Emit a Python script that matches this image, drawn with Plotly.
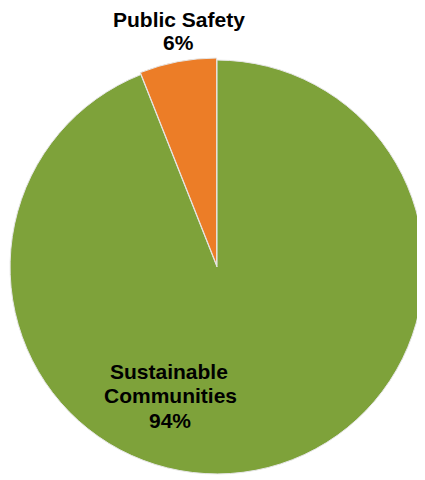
import plotly.graph_objects as go

labels = ["Sustainable Communities", "Public Safety"]
values = [94, 6]
colors = ["#7ea23a", "#ec7d27"]
pull = [0, 0.01]
# each label is drawn line by line, tight line spacing like the original
label_lines = [["Sustainable", "Communities"], ["Public Safety"]]

W, H = 418, 472  # page adds an 8px body margin, so keep the figure inside the window


def px(x):
    return x / W


def py(y):
    return (H - y) / H


# centre of each text line, in figure pixels
line_pos = [
    [(161, 363.5), (162, 387), (161.5, 412)],
    [(171, 11.3), (170.5, 34.5)],
]

fig = go.Figure(go.Pie(
    labels=labels,
    values=values,
    textinfo="none",
    sort=False,
    direction="clockwise",
    rotation=0,
    pull=pull,
    marker=dict(colors=colors, line=dict(color="#e6e6e6", width=1)),
    showlegend=False,
    hoverinfo="label+percent",
    domain=dict(x=[0, 1], y=[py(468), py(50)]),
))

total = sum(values)
for lines, v, pos in zip(label_lines, values, line_pos):
    texts = lines + [f"{round(100 * v / total)}%"]
    for t, (x, y) in zip(texts, pos):
        fig.add_annotation(
            x=px(x), y=py(y), xref="paper", yref="paper",
            xanchor="center", yanchor="middle",
            text=f"<b>{t}</b>",
            showarrow=False,
            font=dict(family="Liberation Sans, Arial, sans-serif", size=21, color="black"),
        )

fig.update_layout(
    width=W,
    height=H,
    margin=dict(l=0, r=0, t=0, b=0),
    paper_bgcolor="white",
    plot_bgcolor="white",
)
fig.write_html("out.html")
